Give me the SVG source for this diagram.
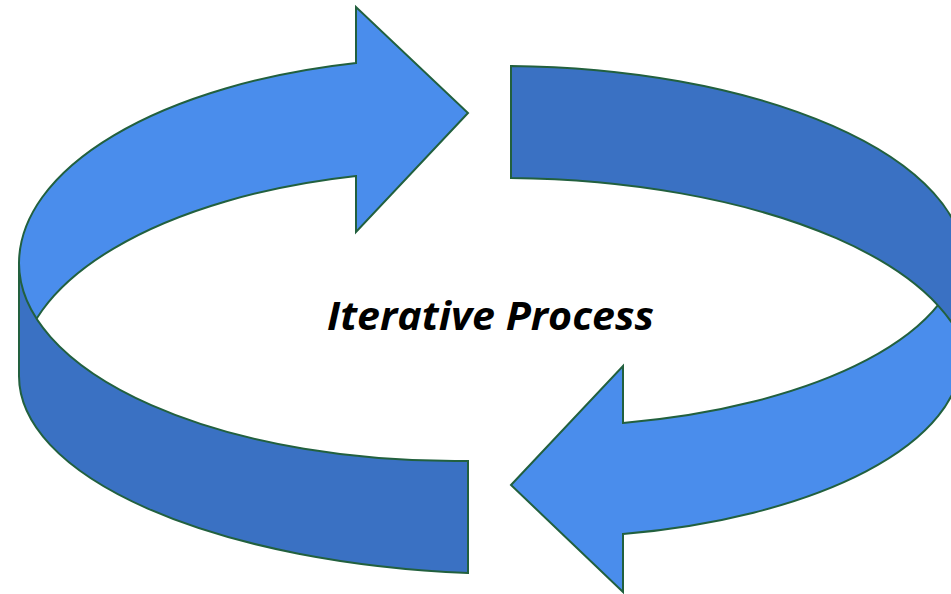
<svg xmlns="http://www.w3.org/2000/svg" width="951" height="594" viewBox="0 0 951 594">
  <style>
    .band { stroke: #22603E; stroke-width: 2; stroke-linejoin: miter; stroke-miterlimit: 10; }
    .light { fill: #4A8DEC; }
    .dark { fill: #3A71C3; }
    .label { font-family: "Open Sans", Lato, "Liberation Sans", sans-serif; font-weight: bold; font-style: italic; font-size: 39px; fill: #000000; }
  </style>
  <rect width="951" height="594" fill="#FFFFFF"/>

  <!-- left arrow: inner back face with head pointing right, outer front face below -->
  <g id="arrow-left">
    <path class="band light" d="M 19 263 A 436 206 0 0 1 356 63 L 356 7 L 468 113 L 356 232 L 356 176 A 436 206 0 0 0 19 376 Z"/>
    <path class="band dark" d="M 19 263 A 436 198 0 0 0 468 461 L 468 573 A 501 198 0 0 1 19 376 Z"/>
  </g>

  <!-- right arrow: outer front face with head pointing left, back face above it -->
  <g id="arrow-right">
    <path class="band light" d="M 623 423 L 623 366 L 511 485 L 623 592 L 623 534 A 421 180 0 0 0 961 357 L 961 245 A 421 180 0 0 1 623 423 Z"/>
    <path class="band dark" d="M 511 66 A 465 199 0 0 1 965 265 L 970 378 A 470 200 0 0 0 511 178 Z"/>
  </g>

  <g id="title">
    <text class="label" x="327" y="330" textLength="327" lengthAdjust="spacingAndGlyphs">Iterative Process</text>
  </g>
</svg>
